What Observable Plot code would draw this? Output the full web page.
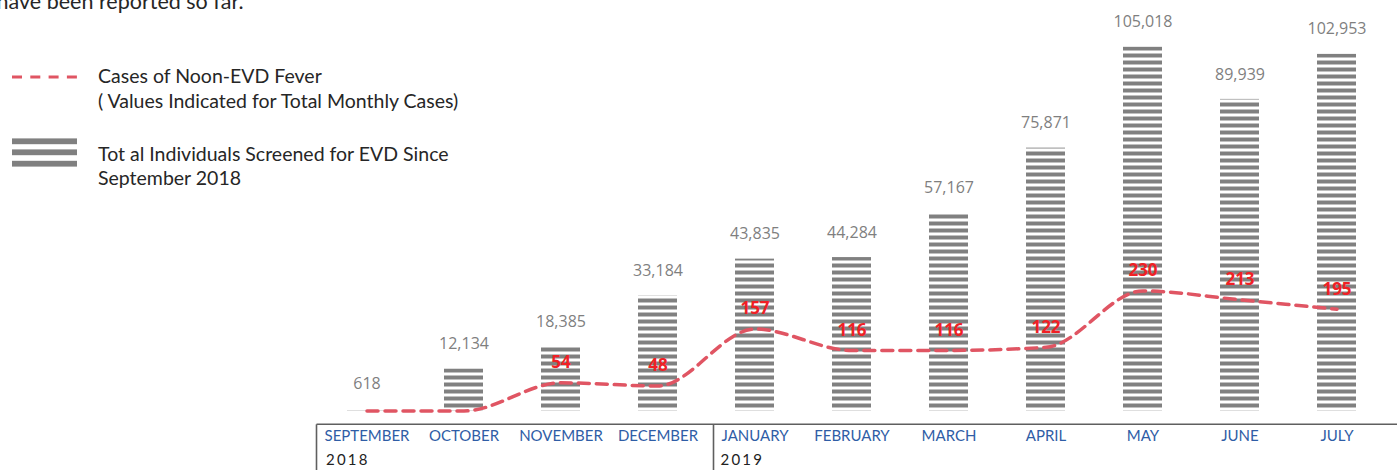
<!DOCTYPE html>
<html>
<head>
<meta charset="utf-8">
<script src="https://cdn.jsdelivr.net/npm/d3@7"></script>
<script src="https://cdn.jsdelivr.net/npm/@observablehq/plot@0.6"></script>
<style>
  html, body { margin: 0; padding: 0; background: #fff; overflow: hidden; }
  #wrap { position: relative; width: 1397px; height: 470px; }
  #wrap > svg { position: absolute; left: 0; top: 0; }
</style>
</head>
<body>
<div id="wrap"></div>
<script>
// ---- data ----
const months = ["SEPTEMBER", "OCTOBER", "NOVEMBER", "DECEMBER", "JANUARY", "FEBRUARY", "MARCH", "APRIL", "MAY", "JUNE", "JULY"];
const years = ["2018", "2018", "2018", "2018", "2019", "2019", "2019", "2019", "2019", "2019", "2019"];
const screened = [618, 12134, 18385, 33184, 43835, 44284, 57167, 75871, 105018, 89939, 102953];
const feverCases = [0, 0, 54, 48, 157, 116, 116, 122, 230, 213, 195];
const screenedAxisMax = 110000;   // left (bar) axis extent
const casesAxisMax = 730;         // secondary (line) axis extent

const data = months.map((m, i) => ({
  month: m,
  year: years[i],
  screened: screened[i],
  cases: feverCases[i],
  casesOnBarAxis: feverCases[i] * screenedAxisMax / casesAxisMax
}));
const yearStarts = data.filter((d, i) => i === 0 || years[i - 1] !== d.year);
const fmt = d3.format(",");

const plot = Plot.plot({
  width: 1397,
  height: 470,
  marginLeft: 317.5,
  marginRight: 11.3,
  marginTop: 29.4,
  marginBottom: 59.5,
  style: { fontFamily: "Lato, sans-serif", background: "transparent", overflow: "visible" },
  x: { domain: months, paddingInner: 0.6, paddingOuter: 0.3, axis: null },
  y: { domain: [0, screenedAxisMax], axis: null },
  marks: [
    Plot.barY(data, { x: "month", y: "screened", fill: "url(#evd-stripes)" }),
    Plot.text(data, {
      x: "month", y: "screened", text: d => fmt(d.screened), dy: -25,
      fill: "#7f7f7f", fontSize: 16, fontFamily: "Open Sans, sans-serif"
    }),
    Plot.line(data, {
      x: "month", y: "casesOnBarAxis", stroke: "#e05563", strokeWidth: 3.5,
      strokeDasharray: "11,7", curve: "monotone-x"
    }),
    Plot.text(data.filter(d => d.cases > 0), {
      x: "month", y: "casesOnBarAxis", text: d => String(d.cases), dy: -20,
      fill: "#f02025", fontSize: 17, fontWeight: "bold", fontFamily: "Open Sans, sans-serif"
    }),
    Plot.axisX({ tickSize: 0, tickPadding: 19.5, fontSize: 15, color: "#2f5da6", label: null }),
    Plot.text(yearStarts.slice(0, 1), {
      x: "month", text: "year", frameAnchor: "bottom", textAnchor: "start", dx: -41, dy: 54,
      fill: "#222", fontSize: 15, fontFamily: "Lato, sans-serif"
    }),
    Plot.text(yearStarts.slice(1), {
      x: "month", text: "year", frameAnchor: "bottom", textAnchor: "start", dx: -34.5, dy: 54,
      fill: "#222", fontSize: 15, fontFamily: "Lato, sans-serif"
    })
  ]
});

// stripe pattern for the bars, aligned to the baseline
const svg = d3.select(plot);
const yScale = plot.scale("y");
const xScale = plot.scale("x");
const y0 = yScale.apply(0);
const defs = svg.insert("defs", ":first-child");
const pat = defs.append("pattern")
  .attr("id", "evd-stripes")
  .attr("patternUnits", "userSpaceOnUse")
  .attr("width", 8).attr("height", 7)
  .attr("patternTransform", `translate(0 ${y0})`);
pat.append("rect").attr("x", 0).attr("y", 0).attr("width", 8).attr("height", 4).attr("fill", "#808080");

// letter-spaced year labels
svg.selectAll("text").filter(function () { return years.includes(this.textContent); })
  .style("letter-spacing", "2.2px");

// category box (decoration)
const center = m => xScale.apply(m) + xScale.bandwidth / 2;
const boxTop = y0 + 13.8;
const boxLeft = center(months[0]) - 50;
const sepX = center(yearStarts[1].month) - 41;
const box = svg.append("g").attr("stroke", "#5f5f5f").attr("stroke-width", 1.6).attr("fill", "none");
box.append("line").attr("x1", boxLeft).attr("x2", 1397).attr("y1", boxTop).attr("y2", boxTop);
box.append("line").attr("x1", boxLeft).attr("x2", boxLeft).attr("y1", boxTop).attr("y2", 470);
box.append("line").attr("x1", sepX).attr("x2", sepX).attr("y1", boxTop).attr("y2", 470);

document.getElementById("wrap").appendChild(plot);

// ---- legend & cut-off note (overlay) ----
const fs = 19.5;
const leg = d3.select("#wrap").append("svg")
  .attr("width", 480).attr("height", 200)
  .style("font-family", "Lato, sans-serif").style("overflow", "visible");
leg.append("text").attr("x", 243.5).attr("y", 8.5).attr("text-anchor", "end")
  .attr("font-size", 21.5).attr("fill", "#262626").text("have been reported so far.");
leg.append("line").attr("x1", 12).attr("x2", 77).attr("y1", 77).attr("y2", 77)
  .attr("stroke", "#e05563").attr("stroke-width", 3).attr("stroke-dasharray", "10,8.3");
leg.append("text").attr("x", 98).attr("y", 83.3).attr("font-size", fs).attr("fill", "#262626")
  .text("Cases of Noon-EVD Fever");
leg.append("text").attr("x", 98).attr("y", 107.7).attr("font-size", fs).attr("fill", "#262626")
  .text("( Values Indicated for Total Monthly Cases)");
[138.4, 149.4, 160.8].forEach(y => {
  leg.append("rect").attr("x", 12).attr("y", y).attr("width", 65).attr("height", 5.8).attr("fill", "#808080");
});
leg.append("text").attr("x", 98).attr("y", 161).attr("font-size", fs).attr("fill", "#262626")
  .text("Tot al Individuals Screened for EVD Since");
leg.append("text").attr("x", 98).attr("y", 185).attr("font-size", fs).attr("fill", "#262626")
  .text("September 2018");
</script>
</body>
</html>
